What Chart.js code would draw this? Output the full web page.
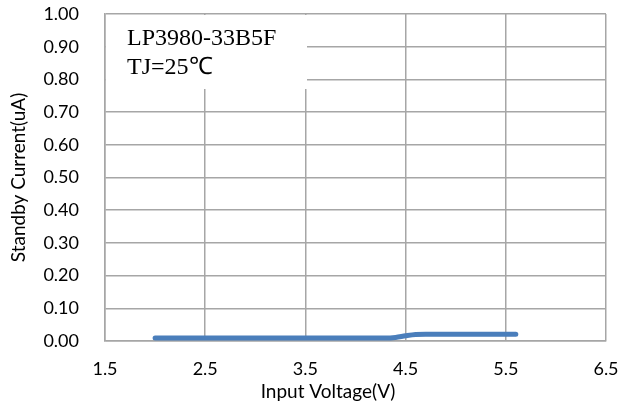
<!DOCTYPE html>
<html>
<head>
<meta charset="utf-8">
<script src="https://cdn.jsdelivr.net/npm/chart.js@4.4.0/dist/chart.umd.min.js"></script>
<style>
html,body{margin:0;padding:0;background:#fff;}
#wrap{width:637px;height:410px;position:relative;}
</style>
</head>
<body>
<div id="wrap"><canvas id="c" width="637" height="410"></canvas></div>
<script>
const voltages = [2.0, 2.5, 3.0, 3.5, 4.0, 4.3, 4.4, 4.5, 4.6, 4.7, 5.0, 5.5, 5.6];
const currents = [0.009, 0.009, 0.009, 0.009, 0.009, 0.009, 0.011, 0.016, 0.020, 0.021, 0.021, 0.021, 0.021];
const xTitle = 'Input Voltage(V)';
const yTitle = 'Standby Current(uA)';
const noteLines = ['LP3980-33B5F', 'TJ=25\u2103'];

const gridColor = '#a6a6a6';
const tickFont = {family: 'Lato, "Open Sans", sans-serif', size: 18};
const titleFont = {family: 'Lato, "Open Sans", sans-serif', size: 19};

const notePlugin = {
  id: 'note',
  beforeDatasetsDraw(chart) {
    const ctx = chart.ctx, a = chart.chartArea;
    ctx.save();
    ctx.fillStyle = '#fff';
    ctx.fillRect(a.left + 1, a.top + 1, 201, 74);
    ctx.fillStyle = '#000';
    ctx.font = '24px "Liberation Serif", "Times New Roman", serif';
    ctx.textBaseline = 'middle';
    ctx.textAlign = 'left';
    ctx.fillText(noteLines[0], a.left + 22, a.top + 25);
    ctx.fillText(noteLines[1], a.left + 22, a.top + 54);
    ctx.restore();
  },
  afterDraw(chart) {
    const ctx = chart.ctx;
    ctx.save();
    ctx.fillStyle = '#000';
    ctx.font = '19px Lato, "Open Sans", sans-serif';
    ctx.textAlign = 'center';
    ctx.textBaseline = 'middle';
    ctx.fillText(xTitle, 328, 392);
    ctx.restore();
  }
};

new Chart(document.getElementById('c'), {
  type: 'line',
  data: {
    datasets: [{
      data: voltages.map((v, i) => ({x: v, y: currents[i]})),
      borderColor: '#4a7ebb',
      borderWidth: 5,
      pointRadius: 0,
      cubicInterpolationMode: 'monotone',
      borderCapStyle: 'round',
      borderJoinStyle: 'round',
      fill: false
    }]
  },
  options: {
    responsive: false,
    animation: false,
    devicePixelRatio: 1,
    layout: {padding: {left: 0, right: 31, top: 14, bottom: 0}},
    plugins: {legend: {display: false}, tooltip: {enabled: false}},
    scales: {
      x: {
        type: 'linear',
        min: 1.5, max: 6.5,
        ticks: {stepSize: 1, color: '#000', font: tickFont, padding: 17,
          callback: v => v.toFixed(1)},
        grid: {color: gridColor, lineWidth: 1.5, drawTicks: false},
        border: {color: gridColor, width: 1.5},
        afterFit: s => { s.height = 69; s.paddingLeft = 0; s.paddingRight = 0; s.paddingTop = 0; s.paddingBottom = 0; }
      },
      y: {
        min: 0, max: 1,
        ticks: {stepSize: 0.1, color: '#000', font: tickFont, padding: 26,
          callback: v => v.toFixed(2)},
        grid: {color: gridColor, lineWidth: 1.5, drawTicks: false},
        border: {color: gridColor, width: 1.5},
        title: {display: true, text: yTitle, color: '#000', font: titleFont, padding: {top: 7, bottom: 7}},
        afterFit: s => { s.width = 105; s.paddingLeft = 0; s.paddingRight = 0; s.paddingTop = 0; s.paddingBottom = 0; }
      }
    }
  },
  plugins: [notePlugin]
});
</script>
</body>
</html>
